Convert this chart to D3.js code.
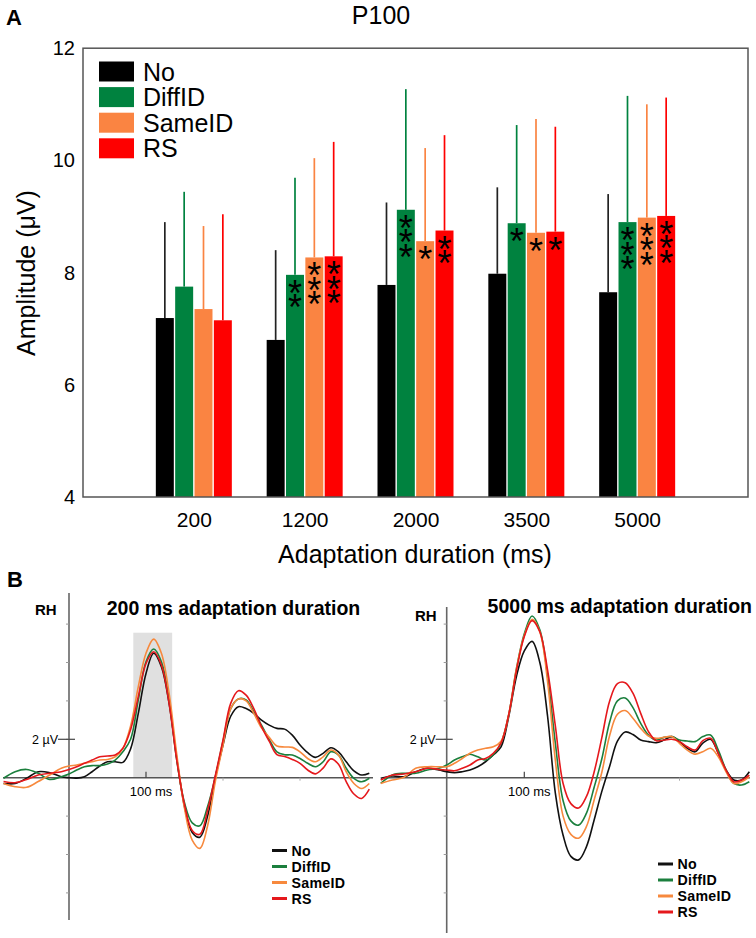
<!DOCTYPE html>
<html><head><meta charset="utf-8">
<script src="https://cdn.jsdelivr.net/npm/d3@7"></script>
<style>
body{margin:0;background:#fff}
svg{display:block}
text{font-family:"Liberation Sans",Arial,Helvetica,sans-serif;fill:#000}
</style>
</head><body>
<svg id="c" width="756" height="938"></svg>
<script>
// ---------- Panel A data ----------
const durations = ["200","1200","2000","3500","5000"];
const conditions = ["No","DiffID","SameID","RS"];
const barColors = ["#000000","#00823f","#fa8442","#fe0000"];
const meanNo   = [7.19, 6.80, 7.78, 7.98, 7.65];
const meanDiff = [7.75, 7.96, 9.12, 8.88, 8.90];
const meanSame = [7.35, 8.27, 8.56, 8.71, 8.98];
const meanRS   = [7.15, 8.29, 8.75, 8.73, 9.01];
const errTopNo   = [8.90, 8.40, 9.25, 9.52, 9.40];
const errTopDiff = [9.44, 9.69, 11.27, 10.63, 11.15];
const errTopSame = [8.83, 10.04, 10.22, 10.74, 11.00];
const errTopRS   = [9.04, 10.33, 10.45, 10.60, 11.12];
const starsNo   = [0,0,0,0,0];
const starsDiff = [0,2,3,1,3];
const starsSame = [0,3,1,1,3];
const starsRS   = [0,3,2,1,3];
const yTicks = [4,6,8,10,12];

// ---------- Panel B data (ERP, µV) ----------
const times = [-85,-70,-55,-40,-25,-10,0,10,20,30,40,50,60,70,80,90,100,110,120,130,140,150,160,170,180,190,200,210,220,230,240,250,260,270,280,290,300,310,320,330,340,350,360,370,380,390];
const lineColors = ["#111111","#1b7f3d","#f7893d","#e5181c"];
const no200 = [-0.3,-0.3,-0.03,0.31,0.26,0.05, 0,-0.02,0.05,0.31,0.61,0.83,0.83,0.8,1.5,3.35, 5.43,6.48,5.78,3.87,1.0,-1.5,-2.85,-3.1,-2.0,0.0, 1.7,3.2,3.7,3.6,3.35,3.0,2.74,2.57,2.53,2.22, 1.7,1.3,1.06,1.27,1.56,1.35,0.83,0.36,0.14,0.23];
const diff200 = [-0.03,0.31,0.43,0.23,-0.09,0.05, 0.19,0.4,0.57,0.63,0.63,0.71,0.92,1.35,2.0,4.05, 6.04,6.70,6.04,4.05,0.9,-1.3,-2.35,-2.5,-1.5,0.05, 1.9,3.6,4.1,4.05,3.44,2.74,2.0,1.35,1.2,1.18, 1.0,0.75,0.57,0.83,1.35,1.18,0.49,-0.03,-0.21,-0.03];
const same200 = [-0.3,-0.47,-0.5,-0.2,0.14,0.49, 0.61,0.66,0.75,0.83,0.92,0.95,1.09,1.53,2.7,4.74, 6.48,7.22,6.48,4.39,1.2,-1.6,-3.25,-3.68,-2.5,-0.2, 1.7,3.6,4.1,4.0,3.35,2.6,2.1,1.65,1.6,1.58, 1.35,1.0,0.83,1.09,1.44,1.18,0.31,-0.3,-0.56,-0.3];
const rs200 = [-0.2,-0.26,-0.09,0.14,0.23,0.31, 0.43,0.57,0.75,0.92,1.09,1.13,1.18,1.53,2.5,4.22, 5.95,6.56,5.87,3.87,0.9,-1.4,-2.75,-2.95,-1.7,0.1, 1.96,3.87,4.53,4.3,3.6,2.66,1.9,1.2,1.1,0.95, 0.75,0.4,0.2,0.5,0.98,0.7,-0.2,-0.85,-1.08,-0.6];
const no5000 = [-0.03,0.09,0.05,0.31,0.49,0.4, 0.31,0.26,0.31,0.4,0.57,0.83,1.18,1.6,3.2,5.3, 6.6,7.1,6.0,3.2,-0.8,-3.0,-4.1,-4.28,-3.6,-2.2, -0.7,0.6,1.9,2.38,2.25,1.96,1.88,1.82,1.96,2.14, 1.88,1.53,1.35,1.8,2.0,1.27,0.4,-0.12,-0.12,0.31];
const diff5000 = [-0.3,0.14,0.23,0.23,0.4,0.49, 0.66,0.92,1.09,1.22,1.09,0.92,1.18,1.8,3.3,5.7, 7.5,8.42,7.7,5.3,1.8,-1.2,-2.25,-2.47,-1.86,-0.5, 1.0,2.9,4.0,4.15,3.65,2.83,2.22,1.96,2.1,2.14, 1.96,1.91,1.88,2.14,2.22,1.44,0.4,-0.3,-0.38,-0.21];
const same5000 = [-0.3,-0.12,0.02,0.49,0.57,0.57, 0.57,0.75,1.0,1.27,1.44,1.53,1.61,1.9,3.3,5.7, 7.4,8.25,7.6,5.0,0.9,-2.0,-2.95,-3.15,-2.55,-1.16, 0.3,2.2,3.3,3.5,3.1,2.57,2.17,2.05,2.1,2.14, 1.79,1.44,1.23,1.35,1.53,1.09,0.31,-0.3,-0.21,0.05];
const rs5000 = [-0.12,0.14,0.19,0.31,0.49,0.43, 0.4,0.36,0.49,0.66,0.92,1.0,1.27,1.8,3.3,5.6, 7.35,8.18,7.6,5.6,2.7,-0.3,-1.35,-1.58,-0.99,0.3, 2.1,4.0,4.9,4.95,4.4,3.35,2.4,1.93,1.96,2.0, 1.88,1.61,1.44,1.93,2.05,1.27,0.4,-0.21,-0.12,0.14];
const shadeWindow = [83.5, 134]; // ms
const erpTicks = [-6,-4,-2,2,4,6,8];

const font = '"Liberation Sans",Arial,sans-serif';
const svg = d3.select("#c");

// ================= PANEL A =================
const means = [meanNo, meanDiff, meanSame, meanRS];
const errs = [errTopNo, errTopDiff, errTopSame, errTopRS];
const stars = [starsNo, starsDiff, starsSame, starsRS];

const x0 = d3.scalePoint().domain(durations).range([83,748]).padding(1);
const xb = d3.scaleBand().domain(conditions).range([-38,38]).paddingInner(0.07);
const y = d3.scaleLinear().domain([4,12]).range([497,48.2]);

const A = svg.append("g");

const barData = [];
durations.forEach((d,i)=>conditions.forEach((c,j)=>{
  barData.push({d, c, j, m: means[j][i], e: errs[j][i], s: stars[j][i]});
}));
const bx = b=>x0(b.d)+xb(b.c)+xb.bandwidth()/2;

// error bars (upper whiskers)
A.selectAll("line.err").data(barData).join("line")
  .attr("x1", bx).attr("x2", bx)
  .attr("y1", b=>y(b.m)).attr("y2", b=>y(b.e))
  .attr("stroke", b=>b.j===0?"#222":barColors[b.j]).attr("stroke-width",1.7);

A.selectAll("rect.bar").data(barData).join("rect")
  .attr("x", b=>x0(b.d)+xb(b.c))
  .attr("width", xb.bandwidth())
  .attr("y", b=>y(b.m))
  .attr("height", b=>y(4)-y(b.m))
  .attr("fill", b=>barColors[b.j]);

// significance stars: one text per bar; the run is turned to go downward
// and each glyph is turned back upright, giving a vertical stack of "*"
const starStep = 14.5, starSize = 36;
const starBars = barData.filter(b=>b.s>0);
A.selectAll("text.star").data(starBars).join("text")
  .attr("class","star")
  .style("font-size", starSize+"px")
  .attr("transform", b=>`translate(${bx(b)-7},${y(b.m)+31}) rotate(90)`)
  .attr("x", b=>d3.range(b.s).map(k=>k*starStep).join(" "))
  .attr("y", 0)
  .attr("rotate", -90)
  .text(b=>"*".repeat(b.s));

// frame
A.append("rect").attr("x",83).attr("y",y(12)).attr("width",665).attr("height",y(4)-y(12))
  .attr("fill","none").attr("stroke","#555").attr("stroke-width",1.5);

const ya = A.append("g").attr("transform","translate(83,0)")
  .call(d3.axisLeft(y).tickValues(yTicks).tickSize(0).tickPadding(8).tickFormat(d3.format("d")));
ya.select(".domain").remove();
ya.selectAll("text").style("font-size","20px").style("font-family",font).attr("fill","#000");

const xa = A.append("g").attr("transform",`translate(0,${y(4)})`)
  .call(d3.axisBottom(x0).tickSize(0).tickPadding(14.8));
xa.select(".domain").remove();
xa.selectAll("text").style("font-size","21px").style("font-family",font).attr("fill","#000");

A.append("text").attr("x",381).attr("y",24).attr("text-anchor","middle").style("font-size","25px").text("P100");
A.append("text").attr("x",6).attr("y",25).style("font-size","22px").style("font-weight","bold").text("A");
A.append("text").attr("transform","translate(35,273) rotate(-90)").attr("text-anchor","middle").style("font-size","25px").text("Amplitude (μV)");
A.append("text").attr("x",415).attr("y",563).attr("text-anchor","middle").style("font-size","25px").text("Adaptation duration (ms)");

const legA = A.append("g");
conditions.forEach((c,i)=>{
  legA.append("rect").attr("x",99).attr("y",61.5+i*25.6).attr("width",35).attr("height",20).attr("fill",barColors[i]);
  legA.append("text").attr("x",143).attr("y",61.5+i*25.6+10+9).style("font-size","25px").text(c);
});

// ================= PANEL B =================
svg.append("text").attr("x",7).attr("y",587).style("font-size","22px").style("font-weight","bold").text("B");

const yE = d3.scaleLinear().domain([0,2]).range([777.7,739.3]);

function erp(opts){
  const g = svg.append("g");
  const xs = d3.scaleLinear().domain([0,100]).range([opts.x0, opts.x0+opts.pxPer100]);
  if(opts.shade){
    g.append("rect").attr("x",xs(shadeWindow[0])).attr("width",xs(shadeWindow[1])-xs(shadeWindow[0]))
      .attr("y",opts.shadeTop).attr("height",yE(0)-opts.shadeTop).attr("fill","#e0e0e0");
  }
  g.append("line").attr("x1",xs(0)).attr("x2",xs(0)).attr("y1",opts.axTop).attr("y2",opts.axBot)
    .attr("stroke","#666").attr("stroke-width",1.6);
  g.selectAll("line.mt").data(erpTicks).join("line")
    .attr("x1",xs(0)-3).attr("x2",xs(0)).attr("y1",d=>yE(d)).attr("y2",d=>yE(d))
    .attr("stroke","#999").attr("stroke-width",1);
  g.append("line").attr("x1",xs(0)-11).attr("x2",xs(0)+6).attr("y1",yE(2)).attr("y2",yE(2)).attr("stroke","#444").attr("stroke-width",1.2);
  g.append("text").attr("x",xs(0)-11).attr("y",yE(2)+4.5).attr("text-anchor","end").style("font-size","12.5px").text("2 µV");
  g.append("line").attr("x1",opts.zx1).attr("x2",opts.zx2).attr("y1",yE(0)).attr("y2",yE(0)).attr("stroke","#555").attr("stroke-width",1.6);
  g.append("line").attr("x1",xs(100)).attr("x2",xs(100)).attr("y1",yE(0)-6).attr("y2",yE(0)).attr("stroke","#444").attr("stroke-width",1.2);
  [200,300].forEach(t=>g.append("line").attr("x1",xs(t)).attr("x2",xs(t)).attr("y1",yE(0)).attr("y2",yE(0)+3).attr("stroke","#aaa").attr("stroke-width",1));
  g.append("text").attr("x",xs(100)+5).attr("y",796).attr("text-anchor","middle").style("font-size","13px").text("100 ms");
  const line = d3.line().x((d,i)=>xs(times[i])).y(d=>yE(d)).curve(d3.curveCatmullRom.alpha(0.5));
  opts.series.forEach((s,i)=>{
    g.append("path").attr("d",line(s)).attr("fill","none").attr("stroke",lineColors[i]).attr("stroke-width",1.6);
  });
  g.append("text").attr("x",opts.rhX).attr("y",opts.rhY).style("font-size","15px").style("font-weight","bold").text("RH");
  g.append("text").attr("x",opts.tX).attr("y",opts.tY).attr("text-anchor",opts.tAnchor).style("font-size","19.5px").style("font-weight","bold").text(opts.title);
  const legStep = 16;
  conditions.forEach((c,i)=>{
    const cy = opts.legY + i*legStep;
    g.append("line").attr("x1",opts.legX).attr("x2",opts.legX+15).attr("y1",cy).attr("y2",cy).attr("stroke",lineColors[i]).attr("stroke-width",3);
    g.append("text").attr("x",opts.legX+19.5).attr("y",cy+5.1).style("font-size","14.2px").style("font-weight","bold")
      .style("letter-spacing","0.3px").text(c);
  });
}

erp({x0:69, pxPer100:77, shade:true, shadeTop:632.7, axTop:593, axBot:920, zx1:3, zx2:373,
  series:[no200,diff200,same200,rs200], rhX:35, rhY:615, tX:233.5, tY:615, tAnchor:"middle",
  title:"200 ms adaptation duration", legX:272, legY:850.5});
erp({x0:446.7, pxPer100:77.6, shade:false, axTop:607, axBot:933, zx1:383, zx2:750,
  series:[no5000,diff5000,same5000,rs5000], rhX:415, rhY:621, tX:752, tY:613, tAnchor:"end",
  title:"5000 ms adaptation duration", legX:658, legY:864});
</script>
</body></html>
